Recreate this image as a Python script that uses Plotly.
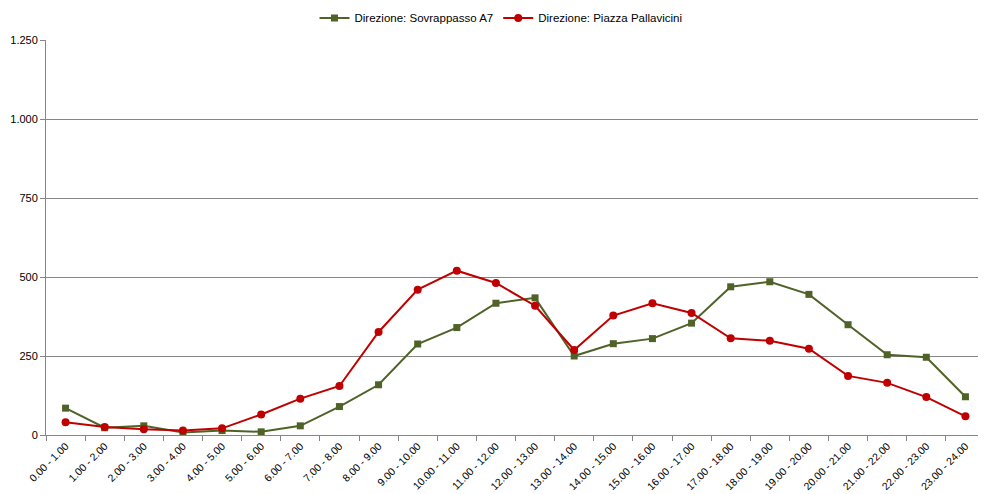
import plotly.graph_objects as go

categories = [f"{h}.00 - {h+1}.00" for h in range(24)]
sovrappasso = [85, 23, 29, 8, 14, 10, 29, 90, 159, 288, 340, 417, 434, 250, 289, 305, 354, 469, 485, 445, 349, 254, 246, 121]
pallavicini = [40, 25, 18, 14, 21, 65, 115, 155, 326, 460, 520, 481, 409, 269, 378, 417, 386, 306, 298, 273, 187, 165, 120, 59]
y_ticks = [0, 250, 500, 750, 1000, 1250]

fig = go.Figure()
fig.add_trace(go.Scatter(
    x=categories, y=sovrappasso, mode="lines+markers",
    name="Direzione: Sovrappasso A7",
    line=dict(color="#4F6228", width=2),
    marker=dict(symbol="square", size=7, color="#4F6228"),
))
fig.add_trace(go.Scatter(
    x=categories, y=pallavicini, mode="lines+markers",
    name="Direzione: Piazza Pallavicini",
    line=dict(color="#C00000", width=2),
    marker=dict(symbol="circle", size=8, color="#C00000"),
))

fig.update_layout(
    width=986, height=494,
    margin=dict(l=38, r=9, t=32, b=67, autoexpand=False),
    paper_bgcolor="white", plot_bgcolor="white",
    separators=",.",
    font=dict(family="Liberation Sans, Arial, sans-serif", size=11, color="#000000"),
    showlegend=True,
    legend=dict(orientation="h", x=0.5, xanchor="center", xref="container",
                y=0.98, yanchor="middle", yref="container",
                font=dict(size=11.5), bgcolor="rgba(0,0,0,0)",
                traceorder="normal", itemwidth=30),
    xaxis=dict(
        type="category", categoryorder="array", categoryarray=categories,
        tickangle=-45, tickson="boundaries", ticks="outside", ticklen=5,
        tickcolor="#868686", showline=True, linecolor="#868686", linewidth=1,
        showgrid=False, tickfont=dict(size=10.5), range=[-0.5, 23.5],
        automargin=False,
    ),
    yaxis=dict(
        range=[0, 1250], tickvals=y_ticks, separatethousands=True, tickformat=",d",
        ticks="outside", ticklen=5, tickcolor="#868686",
        showline=True, linecolor="#868686", linewidth=1,
        showgrid=True, gridcolor="#868686", gridwidth=1,
        zeroline=False, tickfont=dict(size=11), automargin=False,
    ),
)

fig.write_html("out.html")
